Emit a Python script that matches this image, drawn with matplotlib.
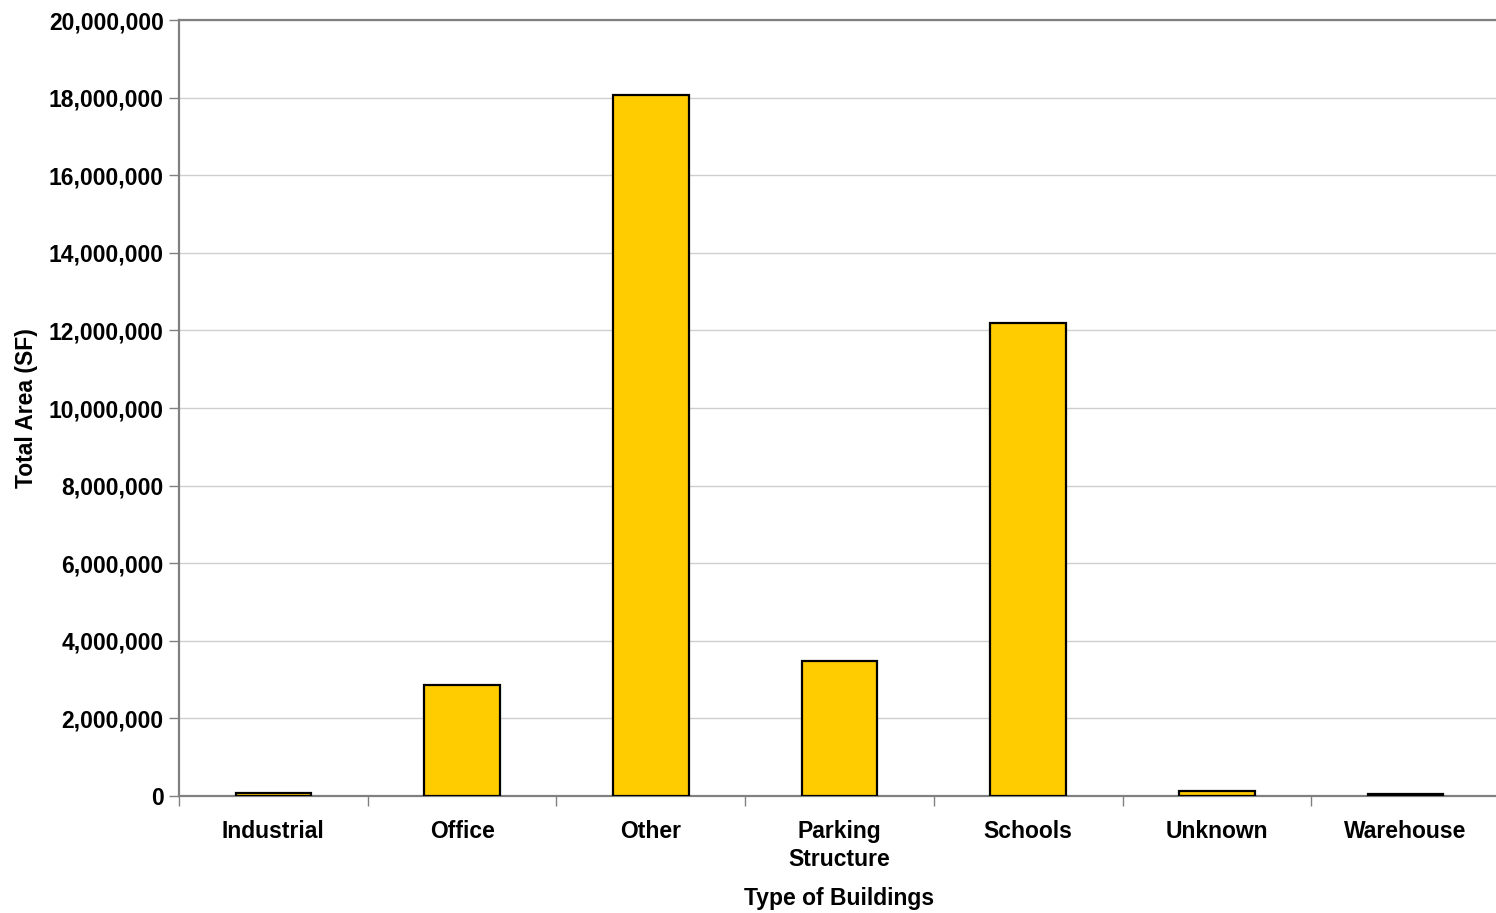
import matplotlib
matplotlib.use("Agg")
import matplotlib.pyplot as plt
from matplotlib.ticker import FuncFormatter, FixedLocator
import numpy as np

categories = ["Industrial", "Office", "Other", "Parking\nStructure", "Schools", "Unknown", "Warehouse"]
total_area = [70000, 2870000, 18060000, 3480000, 12200000, 130000, 40000]

plt.rcParams["font.family"] = ["Liberation Sans", "DejaVu Sans"]
plt.rcParams["font.weight"] = "bold"

FS = 16.5

fig = plt.figure(figsize=(14.96, 9.13), dpi=100)
ax = fig.add_axes([179 / 1496, 1 - 796 / 913, 1321 / 1496, 776 / 913])

x = np.arange(len(categories))
ax.bar(x, total_area, width=0.4, color="#FFCC00", edgecolor="black", linewidth=1.6, zorder=3)

ax.set_xlim(-0.5, len(categories) - 0.5)
ax.set_ylim(0, 20000000)
ax.set_yticks(np.arange(0, 20000001, 2000000))
ax.yaxis.set_major_formatter(FuncFormatter(lambda v, p: f"{int(v):,}"))
ax.grid(axis="y", color="#CFCFCF", linewidth=1.0, zorder=0)

ax.set_xticks(x)
ax.set_xticklabels(categories, fontsize=FS, fontweight="bold", linespacing=1.3)
ax.xaxis.set_minor_locator(FixedLocator(np.arange(-0.5, len(categories), 1.0)))
ax.tick_params(axis="x", which="major", length=0, pad=17)
ax.tick_params(axis="x", which="minor", length=7, color="#808080", width=1.0)
ax.tick_params(axis="y", which="major", length=7, color="#808080", width=1.0,
               labelsize=FS, pad=4)
for lbl in ax.get_yticklabels():
    lbl.set_fontweight("bold")

for side in ["left", "bottom", "top", "right"]:
    ax.spines[side].set_color("#808080")
    ax.spines[side].set_linewidth(1.6)

ax.set_xlabel("Type of Buildings", fontsize=FS, fontweight="bold", labelpad=11.5)
ax.set_ylabel("Total Area (SF)", fontsize=FS, fontweight="bold", labelpad=7.5)

fig.savefig("out.png", dpi=100, facecolor="white")
